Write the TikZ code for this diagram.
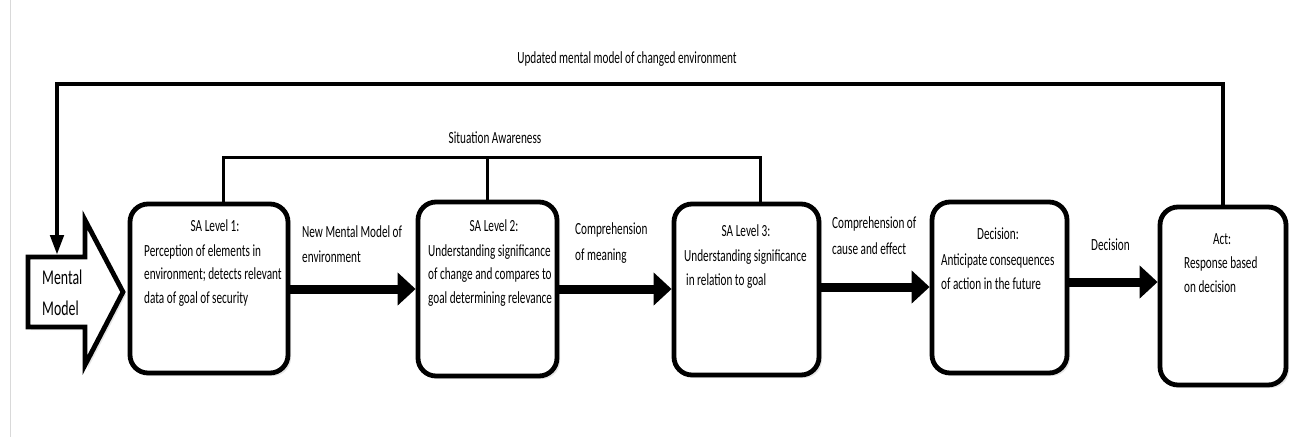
\documentclass[tikz,border=0pt]{standalone}
\usepackage{fontspec}
\setmainfont{Carlito}[FakeStretch=0.66]
\usetikzlibrary{arrows.meta,shadows,calc}
\begin{document}
\begin{tikzpicture}[x=1pt,y=-1pt,
  box/.style={draw, line width=4.8pt, rounded corners=18pt, fill=white,
    drop shadow={shadow xshift=3pt, shadow yshift=-3pt, opacity=0.2}},
  txt/.style={font=\fontsize{17}{24}\selectfont, inner sep=0pt, anchor=base west},
  ttl/.style={font=\fontsize{17}{24}\selectfont, inner sep=0pt, anchor=base},
  big/.style={line width=9pt, -{Triangle[length=18pt,width=32pt]}},
  sa/.style={line width=3pt},
  fb/.style={line width=4.5pt, -{Triangle[length=20pt,width=13pt]}}]
\useasboundingbox (0,0) rectangle (1290,437);
\draw[gray!30, line width=1pt] (10,0) -- (10,437);

% boxes
\node[box, minimum width=158pt, minimum height=169pt] (b1) at (209,288.5) {};
\node[box, minimum width=139pt, minimum height=174pt] (b2) at (487.5,289) {};
\node[box, minimum width=145pt, minimum height=171pt] (b3) at (746.5,289.5) {};
\node[box, minimum width=135pt, minimum height=171pt] (b4) at (999.5,287.5) {};
\node[box, minimum width=126pt, minimum height=178pt] (b5) at (1223,296) {};

% mental model block arrow
\draw[line width=4.8pt, fill=white, drop shadow={shadow xshift=3pt, shadow yshift=-3pt, opacity=0.2}]
  (28,257) -- (85,257) -- (85,220) -- (123,292) -- (85,365) -- (85,327) -- (28,327) -- cycle;
\node[txt, font=\fontsize{21}{30}\selectfont] (mm1) at (42,284) {Mental};
\node[txt, font=\fontsize{21}{30}\selectfont] (mm2) at (42,315) {Model};
\coordinate (mmtop) at (57,255);

% box texts
\node[ttl] (t1) at (215,231) {SA Level 1:};
\node[txt] (t1a) at (144,256) {Perception of elements in};
\node[txt] (t1b) at (144,279) {environment; detects relevant};
\node[txt] (t1c) at (144,303) {data of goal of security};

\node[ttl] (t2) at (494,231) {SA Level 2:};
\node[txt] (t2a) at (428,256) {Understanding significance};
\node[txt] (t2b) at (428,279) {of change and compares to};
\node[txt] (t2c) at (428,303) {goal determining relevance};

\node[ttl] (t3) at (746,236) {SA Level 3:};
\node[txt] (t3a) at (684,261) {Understanding significance};
\node[txt] (t3b) at (686,285) {in relation to goal};

\node[ttl] (t4) at (998,239) {Decision:};
\node[txt] (t4a) at (941,265) {Anticipate consequences};
\node[txt] (t4b) at (941,289) {of action in the future};

\node[ttl] (t5) at (1222,244) {Act:};
\node[txt] (t5a) at (1184,268) {Response based};
\node[txt] (t5b) at (1184,292) {on decision};

% arrow labels
\node[txt] (l1a) at (302,237) {New Mental Model of};
\node[txt] (l1b) at (302,262) {environment};
\node[txt] (l2a) at (575,234) {Comprehension};
\node[txt] (l2b) at (575,260) {of meaning};
\node[txt] (l3a) at (832,228) {Comprehension of};
\node[txt] (l3b) at (832,254) {cause and effect};
\node[txt] (l4) at (1091,250) {Decision};

% big arrows
\coordinate (y1) at (0,289);
\coordinate (y3) at (0,287);
\coordinate (y4) at (0,282);
\draw[big] (b1.east |- y1) -- (b2.west |- y1);
\draw[big] (b2.east |- y1) -- (b3.west |- y1);
\draw[big] (b3.east |- y3) -- (b4.west |- y3);
\draw[big] (b4.east |- y4) -- (b5.west |- y4);

% situation awareness bracket
\coordinate (say) at (0,157);
\coordinate (s1) at ([xshift=14pt]b1.north);
\coordinate (s3) at ([xshift=14pt]b3.north);
\draw[sa] (s1) |- (say -| s3) -- (s3);
\draw[sa] (b2.north) -- (b2.north |- say);
\node[ttl] (satxt) at (495,143) {Situation Awareness};

% feedback loop
\coordinate (fbl) at (57,84);
\draw[fb] (b5.north) |- (fbl) -- (mmtop);
\node[ttl] (fbtxt) at (627,63) {Updated mental model of changed environment};
\end{tikzpicture}
\end{document}
